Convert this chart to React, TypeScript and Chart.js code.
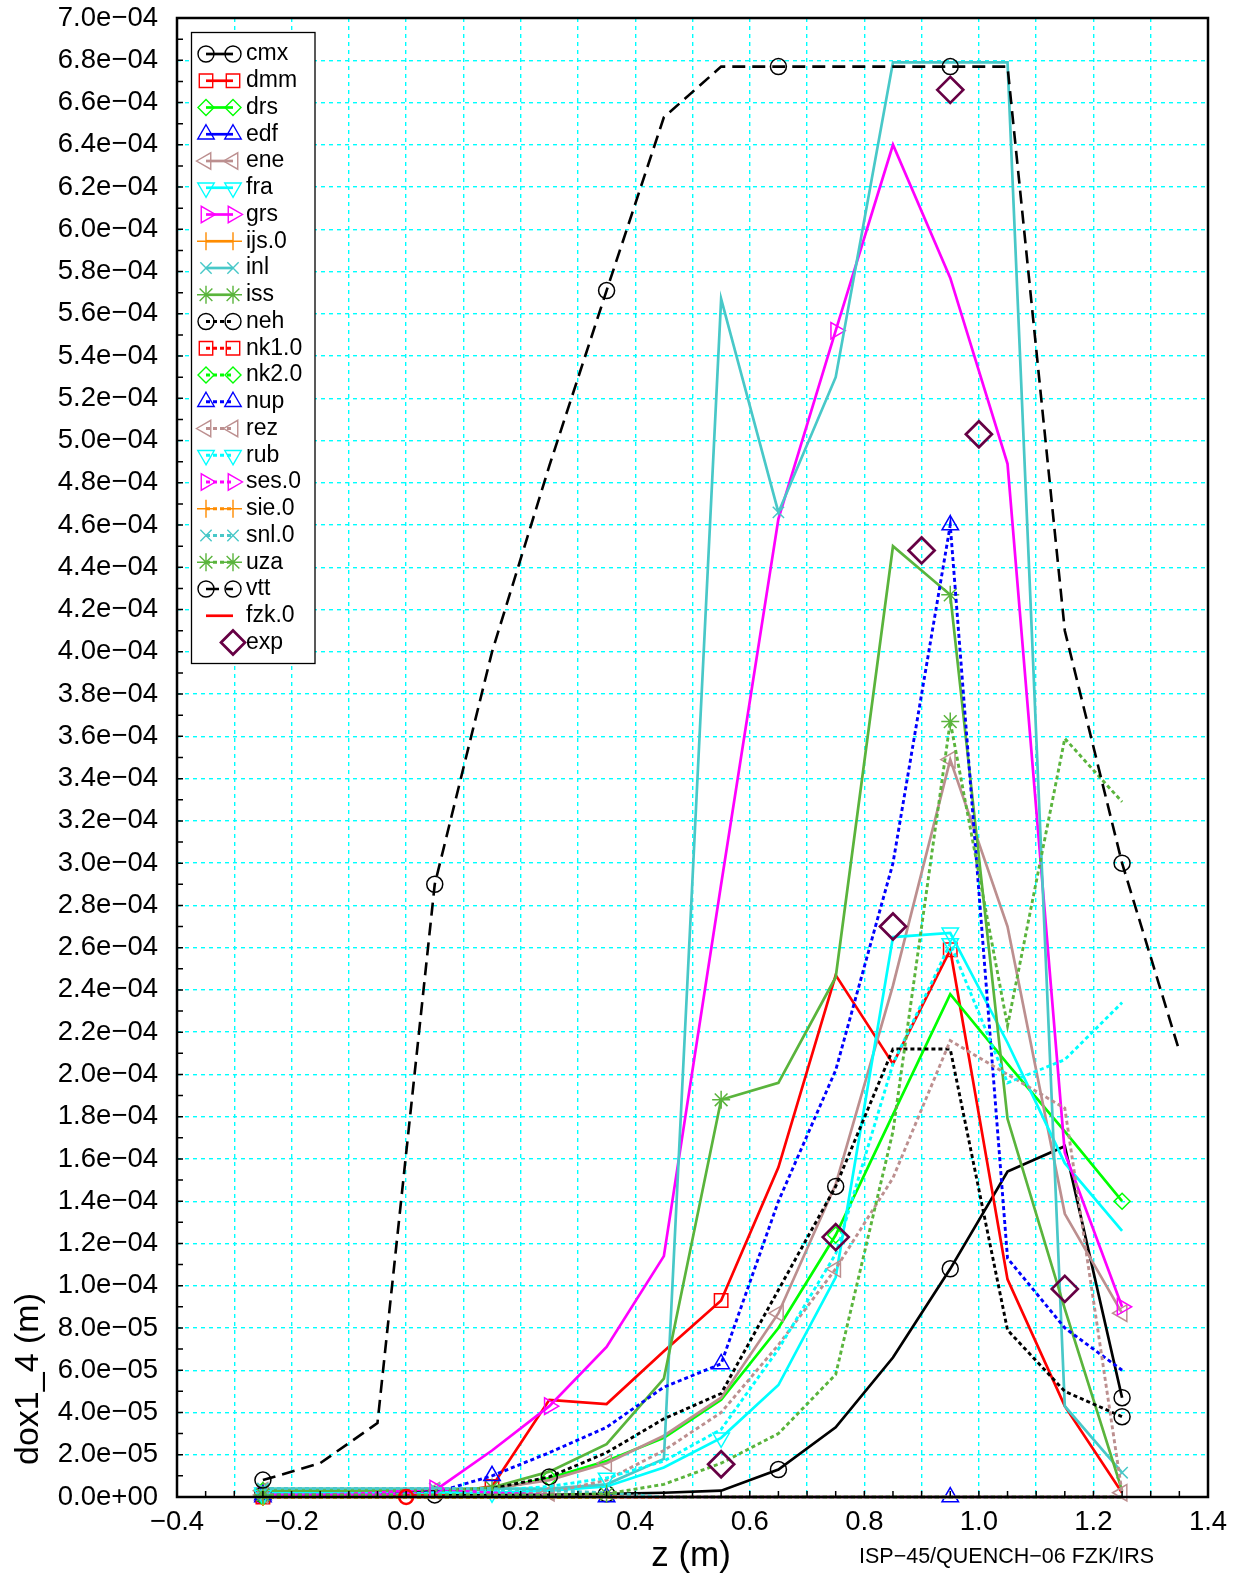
import React, { useEffect, useRef } from 'react';
import { Chart, registerables } from 'chart.js';
import { drawPoint } from 'chart.js/helpers';

Chart.register(...registerables);

// ---- data (values in units of 1e-5 m) ----
const Z = [-0.25, -0.15, -0.05, 0.05, 0.15, 0.25, 0.35, 0.45, 0.55, 0.65, 0.75, 0.85, 0.95, 1.05, 1.15, 1.25];
const Z_VTT = [-0.25, -0.15, -0.05, 0.05, 0.15, 0.25, 0.35, 0.45, 0.55, 0.65, 0.75, 0.85, 0.95, 1.05, 1.15, 1.25, 1.35];

const CMX = [0.1, 0.1, 0.1, 0.1, 0.1, 0.1, 0.15, 0.2, 0.3, 1.3, 3.3, 6.6, 10.8, 15.4, 16.6, 4.7];
const DMM = [0.1, 0.1, 0.1, 0.1, 0.5, 4.6, 4.4, 6.9, 9.3, 15.6, 24.7, 20.5, 25.9, 10.3, 4.3, 0.2];
const DRS = [0.3, 0.3, 0.3, 0.3, 0.35, 0.9, 1.7, 2.8, 4.6, 8.0, 12.4, 18.1, 23.8, 20.5, 17.3, 14.0];
const EDF = [0, 0, 0, 0, 0, 0, 0, 0, 0, 0, 0, 0, 0, 0, 0, 0];
const ENE = [0.3, 0.3, 0.3, 0.3, 0.4, 0.8, 1.6, 2.9, 4.7, 8.7, 14.8, 24.2, 34.9, 27.0, 13.4, 8.7];
const FRA = [0.2, 0.2, 0.2, 0.2, 0.2, 0.3, 0.5, 1.4, 2.8, 5.3, 10.4, 26.5, 26.7, 21.5, 15.8, 12.6];
const GRS = [0.1, 0.1, 0.1, 0.3, 2.2, 4.3, 7.1, 11.4, 29.0, 46.3, 55.2, 64.0, 57.7, 48.9, 16.3, 9.0];
const IJS = [0, 0, 0, 0, 0, 0, 0, 0, 0, 0, 0, 0, 0, 0, 0, 0];
const INL = [0.4, 0.4, 0.4, 0.4, 0.4, 0.4, 0.6, 1.8, 56.7, 46.6, 53.0, 67.9, 67.9, 67.9, 4.3, 1.15];
const ISS = [0.3, 0.3, 0.3, 0.3, 0.45, 1.2, 2.5, 5.6, 18.8, 19.6, 24.6, 45.0, 42.7, 17.9, 8.9, 0.3];
const NEH = [0.1, 0.1, 0.1, 0.3, 0.4, 0.95, 2.1, 3.7, 4.9, 9.8, 14.7, 21.2, 21.2, 7.9, 5.0, 3.8];
const NK1 = [0, 0, 0, 0, 0, 0, 0, 0, 0, 0, 0, 0, 0, 0, 0, 0];
const NK2 = [0, 0, 0, 0, 0, 0, 0, 0, 0, 0, 0, 0, 0, 0, 0, 0];
const NUP = [0.1, 0.1, 0.1, 0.2, 1.0, 2.1, 3.3, 5.2, 6.3, 14.0, 20.2, 30.0, 46.0, 11.3, 8.0, 6.0];
const REZ = [0.1, 0.1, 0.1, 0.1, 0.1, 0.2, 0.8, 2.2, 4.0, 7.2, 10.8, 15.1, 21.6, 20.0, 18.4, 0.2];
const RUB = [0.1, 0.1, 0.1, 0.2, 0.3, 0.5, 0.9, 1.7, 3.2, 7.0, 11.5, 20.5, 26.2, 19.6, 20.7, 23.4];
const SES = [0.1, 0.1, 0.2, 0.4, 0.2, 0.1, 0, 0, 0, 0, 0, 0, 0, 0, 0, 0];
const SIE = [0, 0, 0, 0, 0, 0, 0, 0, 0, 0, 0, 0, 0, 0, 0, 0];
const SNL = [0.4, 0.4, 0.4, 0.4, 0.4, 0.3, 0.2, 0, 0, 0, 0, 0, 0, 0, 0, 0];
const UZA = [0.1, 0.1, 0.1, 0.1, 0.1, 0.1, 0.15, 0.6, 1.6, 3.0, 5.8, 17.3, 36.7, 22.3, 35.9, 32.9];
const VTT = [0.8, 1.6, 3.5, 29.0, 40.0, 48.8, 57.1, 65.3, 67.7, 67.7, 67.7, 67.7, 67.7, 67.7, 41.0, 30.0, 21.1];
const FZK_Z = [0.0];
const FZK = [0];
const EXP_Z = [0.55, 0.75, 0.85, 0.9, 0.95, 1.0, 1.15];
const EXP = [1.55, 12.3, 27.0, 44.8, 66.6, 50.3, 9.85];

const UNIT = 1e-5;
const X_MIN = -0.4, X_MAX = 1.4, X_STEP = 0.1;
const Y_MIN = 0, Y_MAX = 7e-4, Y_STEP = 2e-5;

const FONT = "'Liberation Sans', Arial, Helvetica, sans-serif";

type Series = {
  name: string; z: number[]; v: number[]; color: string; dash: number[];
  style: string; rot: number; r: number; every: number; off: number; width: number;
};

const S = (name: string, z: number[], v: number[], color: string, dash: number[], style: string, rot: number, r: number, every: number, off: number, width = 2.7): Series =>
  ({ name, z, v, color, dash, style, rot, r, every, off, width });

const DOT = [4, 3];
const LONG = [13, 7];
const DW = 2.9;

const SERIES: Series[] = [
  S('cmx', Z, CMX, '#000000', [], 'circle', 0, 8, 3, 0),
  S('dmm', Z, DMM, '#ff0000', [], 'rect', 0, 9.5, 4, 0),
  S('drs', Z, DRS, '#00ff00', [], 'rectRot', 0, 8, 5, 0),
  S('edf', Z, EDF, '#0000ff', [], 'triangle', 0, 9.5, 6, 0),
  S('ene', Z, ENE, '#bc8f8f', [], 'triangle', -90, 9.5, 3, 0),
  S('fra', Z, FRA, '#00ffff', [], 'triangle', 180, 9.5, 4, 0),
  S('grs', Z, GRS, '#ff00ff', [], 'triangle', 90, 9.5, 5, 0),
  S('ijs.0', Z, IJS, '#ff8c00', [], 'cross', 0, 9, 100, 0),
  S('inl', Z, INL, '#48c8c8', [], 'crossRot', 0, 8, 6, 3),
  S('iss', Z, ISS, '#5ab43c', [], 'star', 0, 9, 4, 0),
  S('neh', Z, NEH, '#000000', DOT, 'circle', 0, 8, 5, 0, DW),
  S('nk1.0', Z, NK1, '#ff0000', DOT, 'rect', 0, 9.5, 100, 0, DW),
  S('nk2.0', Z, NK2, '#00ff00', DOT, 'rectRot', 0, 8, 100, 0, DW),
  S('nup', Z, NUP, '#0000ff', DOT, 'triangle', 0, 9.5, 4, 0, DW),
  S('rez', Z, REZ, '#bc8f8f', DOT, 'triangle', -90, 9.5, 5, 0, DW),
  S('rub', Z, RUB, '#00ffff', DOT, 'triangle', 180, 9.5, 6, 0, DW),
  S('ses.0', Z, SES, '#ff00ff', DOT, 'triangle', 90, 9.5, 100, 3, DW),
  S('sie.0', Z, SIE, '#ff8c00', DOT, 'cross', 0, 9, 100, 0, DW),
  S('snl.0', Z, SNL, '#48c8c8', DOT, 'crossRot', 0, 8, 100, 0, DW),
  S('uza', Z, UZA, '#5ab43c', DOT, 'star', 0, 9, 6, 0, DW),
  S('vtt', Z_VTT, VTT, '#000000', LONG, 'circle', 0, 8, 3, 0, 2.6),
];

const FZK_COLOR = '#ff0000';
const EXP_COLOR = '#660044';

function fmtY(v: number): string {
  if (Math.abs(v) < 1e-12) return '0.0e+00';
  const [m, e] = v.toExponential(1).split('e');
  const n = parseInt(e, 10);
  return m + 'e' + (n < 0 ? '\u2212' : '+') + String(Math.abs(n)).padStart(2, '0');
}

function fmtX(v: number): string {
  const k = Math.round(v * 10);
  if (k % 2 !== 0) return '';
  const val = k / 10;
  return (val < 0 ? '\u2212' : '') + Math.abs(val).toFixed(1);
}

const zeroPad = (sc: any) => {
  sc.paddingTop = 0;
  sc.paddingBottom = 0;
  sc.paddingLeft = 0;
  sc.paddingRight = 0;
};

const decoPlugin = {
  id: 'deco',
  afterDatasetsDraw(chart: any) {
    const { ctx, chartArea: a, scales } = chart;
    const sx = scales.x, sy = scales.y;
    ctx.save();
    // minor ticks
    ctx.setLineDash([]);
    ctx.strokeStyle = '#000';
    ctx.lineWidth = 1.5;
    ctx.beginPath();
    for (let k = 0; k <= 36; k++) {
      const px = sx.getPixelForValue(X_MIN + k * 0.05);
      ctx.moveTo(px, a.bottom);
      ctx.lineTo(px, a.bottom - 6);
    }
    for (let k = 0; k <= 70; k++) {
      const py = sy.getPixelForValue(k * 1e-5);
      ctx.moveTo(a.left, py);
      ctx.lineTo(a.left + 6, py);
    }
    ctx.stroke();
    // frame
    ctx.lineWidth = 2.5;
    ctx.strokeRect(a.left, a.top, a.right - a.left, a.bottom - a.top);

    // legend
    const bx = 191.5, by = 32.5, bw = 123.5, bh = 631;
    ctx.fillStyle = '#ffffff';
    ctx.fillRect(bx, by, bw, bh);
    ctx.lineWidth = 1.3;
    ctx.strokeStyle = '#000';
    ctx.strokeRect(bx, by, bw, bh);
    const x1 = 206, x2 = 233, tx = 246;
    const row = (i: number) => 54 + 26.75 * i;
    ctx.font = `23px ${FONT}`;
    ctx.textBaseline = 'middle';
    ctx.textAlign = 'left';
    SERIES.forEach((s, i) => {
      const y = row(i);
      ctx.strokeStyle = s.color;
      ctx.lineWidth = s.width;
      ctx.setLineDash(s.dash);
      ctx.beginPath();
      ctx.moveTo(x1, y);
      ctx.lineTo(x2, y);
      ctx.stroke();
      ctx.setLineDash([]);
      ctx.fillStyle = 'rgba(0,0,0,0)';
      ctx.lineWidth = 1.4;
      drawPoint(ctx, { pointStyle: s.style, rotation: s.rot, radius: s.r, borderWidth: 1.4 } as any, x1, y);
      drawPoint(ctx, { pointStyle: s.style, rotation: s.rot, radius: s.r, borderWidth: 1.4 } as any, x2, y);
      ctx.fillStyle = '#000';
      ctx.fillText(s.name, tx, y);
    });
    // fzk.0
    let y = row(SERIES.length);
    ctx.strokeStyle = FZK_COLOR;
    ctx.lineWidth = 2.7;
    ctx.beginPath();
    ctx.moveTo(x1, y);
    ctx.lineTo(x2, y);
    ctx.stroke();
    ctx.fillStyle = '#000';
    ctx.fillText('fzk.0', tx, y);
    // exp
    y = row(SERIES.length + 1);
    ctx.strokeStyle = EXP_COLOR;
    ctx.fillStyle = 'rgba(0,0,0,0)';
    ctx.lineWidth = 2.7;
    drawPoint(ctx, { pointStyle: 'rectRot', rotation: 0, radius: 12, borderWidth: 2.7 } as any, 233, y);
    ctx.fillStyle = '#000';
    ctx.fillText('exp', tx, y);
    ctx.restore();
  },
  afterDraw(chart: any) {
    const { ctx } = chart;
    ctx.save();
    ctx.fillStyle = '#000';
    ctx.textBaseline = 'middle';
    ctx.textAlign = 'center';
    ctx.font = `35px ${FONT}`;
    ctx.fillText('z (m)', 691, 1556);
    ctx.textAlign = 'left';
    ctx.font = `21.5px ${FONT}`;
    ctx.fillText('ISP\u221245/QUENCH\u221206 FZK/IRS', 859, 1557);
    ctx.translate(29, 1379);
    ctx.rotate(-Math.PI / 2);
    ctx.textAlign = 'center';
    ctx.font = `34px ${FONT}`;
    ctx.fillText('dox1_4 (m)', 0, 0);
    ctx.restore();
  },
};

export default function App() {
  const ref = useRef<HTMLCanvasElement>(null);
  useEffect(() => {
    const N = SERIES.length;
    const datasets: any[] = SERIES.map((s, i) => ({
      label: s.name,
      data: s.z.map((z, j) => ({ x: z, y: s.v[j] * UNIT })),
      borderColor: s.color,
      borderWidth: s.width,
      borderDash: s.dash,
      backgroundColor: 'rgba(0,0,0,0)',
      fill: false,
      tension: 0,
      pointStyle: s.style,
      pointRotation: s.rot,
      pointBorderColor: s.color,
      pointBackgroundColor: 'rgba(0,0,0,0)',
      pointBorderWidth: 1.5,
      pointRadius: (c: any) => (c.dataIndex >= s.off && (c.dataIndex - s.off) % s.every === 0 ? s.r : 0),
      pointHoverRadius: 0,
      clip: false,
      order: N + 2 - i,
    }));
    datasets.push({
      label: 'fzk.0',
      data: FZK_Z.map((z, j) => ({ x: z, y: FZK[j] * UNIT })),
      borderColor: FZK_COLOR,
      borderWidth: 2,
      showLine: true,
      pointStyle: 'circle',
      pointRadius: 7,
      pointBorderColor: FZK_COLOR,
      pointBorderWidth: 2.5,
      pointBackgroundColor: 'rgba(0,0,0,0)',
      clip: false,
      order: 1,
    });
    datasets.push({
      label: 'exp',
      data: EXP_Z.map((z, j) => ({ x: z, y: EXP[j] * UNIT })),
      showLine: false,
      borderColor: EXP_COLOR,
      pointStyle: 'rectRot',
      pointRadius: 13,
      pointBorderColor: EXP_COLOR,
      pointBorderWidth: 2.7,
      pointBackgroundColor: 'rgba(0,0,0,0)',
      clip: false,
      order: 0,
    });

    const chart = new Chart(ref.current as HTMLCanvasElement, {
      type: 'line',
      data: { datasets },
      options: {
        responsive: false,
        animation: false,
        devicePixelRatio: 1,
        layout: { padding: { left: 0, right: 31, top: 18, bottom: 0 } },
        plugins: { legend: { display: false }, tooltip: { enabled: false }, title: { display: false } },
        events: [],
        scales: {
          x: {
            type: 'linear',
            min: X_MIN,
            max: X_MAX,
            afterFit: (sc: any) => { sc.height = 79; zeroPad(sc); },
            ticks: {
              stepSize: X_STEP,
              autoSkip: false,
              maxRotation: 0,
              minRotation: 0,
              padding: 9,
              color: '#000',
              font: { family: FONT, size: 27.5 },
              callback: (v: any) => fmtX(Number(v)),
            },
            grid: { color: '#00ffff', lineWidth: 1.4, drawTicks: false },
            border: { display: false, dash: [4, 4] },
          },
          y: {
            type: 'linear',
            min: Y_MIN,
            max: Y_MAX,
            afterFit: (sc: any) => { sc.width = 177; zeroPad(sc); },
            ticks: {
              stepSize: Y_STEP,
              autoSkip: false,
              padding: 19,
              color: '#000',
              font: { family: FONT, size: 27.5 },
              callback: (v: any) => fmtY(Number(v)),
            },
            grid: { color: '#00ffff', lineWidth: 1.4, drawTicks: false },
            border: { display: false, dash: [4, 4] },
          },
        },
      },
      plugins: [decoPlugin],
    } as any);
    return () => chart.destroy();
  }, []);
  return (
    <div style={{ position: 'absolute', left: 0, top: 0, width: 1239, height: 1576, background: '#ffffff' }}>
      <canvas ref={ref} width={1239} height={1576} style={{ display: 'block', width: 1239, height: 1576 }} />
    </div>
  );
}
